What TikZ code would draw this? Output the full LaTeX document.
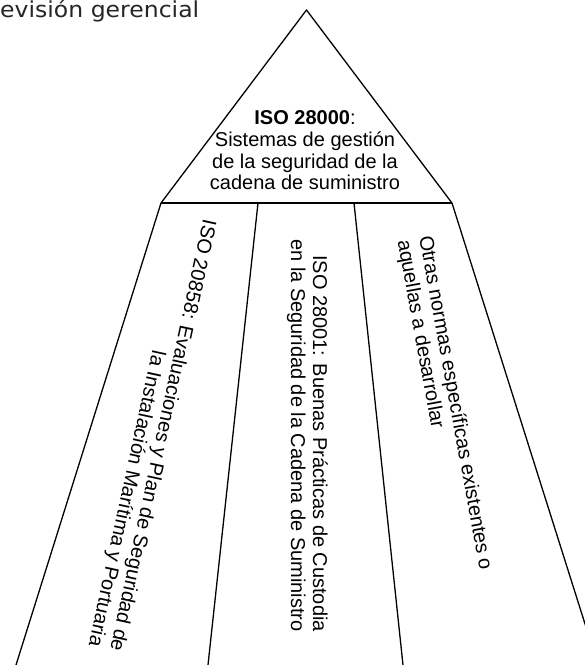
\documentclass[tikz,border=0pt]{standalone}
\usepackage{fontspec}
\setmainfont{Liberation Sans}
\newfontfamily\titlefont{DejaVu Sans}
\begin{document}
\begin{tikzpicture}[x=1pt,y=-1pt,line join=round,
  edge/.style={line width=1.3pt,black},
  baseedge/.style={line width=1.9pt,black},
  tri/.style={inner sep=0pt,align=center,font=\fontsize{20pt}{21.7pt}\selectfont},
  panel/.style={inner sep=0pt,font=\fontsize{20pt}{22pt}\selectfont}]
\useasboundingbox (0,0) rectangle (585,665);
\fill[white] (0,0) rectangle (585,665);
\clip (0,0) rectangle (585,665);
% corners
\coordinate (apex) at (306.5,10);
\coordinate (bl) at (161,203);
\coordinate (br) at (452,203);
\coordinate (lb) at (16,665);
\coordinate (d1t) at (258,203);
\coordinate (d1b) at (208,665);
\coordinate (d2t) at (354,203);
\coordinate (d2b) at (403,665);
\coordinate (rb) at (598,665);
% triangle
\draw[edge] (bl) -- (apex) -- (br);
\draw[baseedge] (bl) -- (br);
% panels
\draw[edge] (bl) -- (lb);
\draw[edge] (d1t) -- (d1b);
\draw[edge] (d2t) -- (d2b);
\draw[edge] (br) -- (rb);
% title
\node[anchor=base west,inner sep=0pt,font=\titlefont\fontsize{22pt}{24pt}\selectfont,xscale=1.07,text=black!85] (title) at (0,17.5) {evisión gerencial};
% triangle text
\node[tri,anchor=south] (top) at (305,196.5) {\strut\textbf{ISO 28000}:\\ \strut Sistemas de gestión\\ \strut de la seguridad de la\\ \strut cadena de suministro};
% panel 1
\node[panel,align=right,anchor=south east,rotate=-102.2] (p1) at (82.05,644.0) {\strut ISO 20858: Evaluaciones y Plan de Seguridad de\\ \strut la Instalación Marítima y Portuaria};
% panel 2
\node[panel,align=right,anchor=south east,rotate=-90] (p2) at (284.4,632) {\strut ISO 28001: Buenas Prácticas de Custodia\\ \strut en la Seguridad de la Cadena de Suministro};
% panel 3
\node[panel,align=left,anchor=south west,rotate=-79.7] (p3) at (390.86,242.1) {\strut Otras normas específicas existentes o\\ \strut aquellas a desarrollar};
\end{tikzpicture}
\end{document}
